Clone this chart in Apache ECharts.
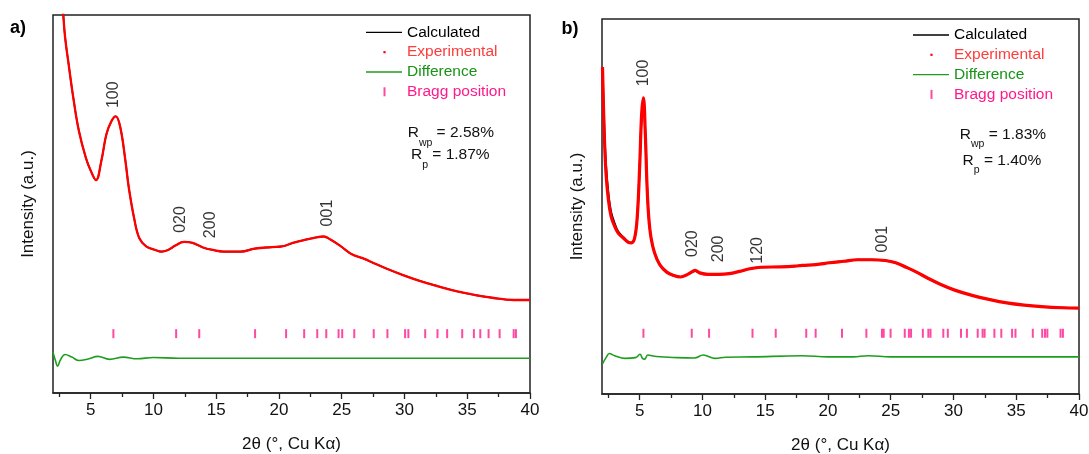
<!DOCTYPE html>
<html><head><meta charset="utf-8">
<script src="https://cdn.jsdelivr.net/npm/echarts@6/dist/echarts.min.js"></script>
<style>html,body{margin:0;padding:0;background:#fff}#c{width:1089px;height:454px}</style>
</head><body><div id="c"></div>
<script>
// ---------- Panel a ----------
const twoThetaA = [2.0, 2.3, 2.6, 2.8, 2.96, 3.24, 3.65, 4.06, 4.61, 5.02, 5.43, 5.85, 6.26, 6.67, 7.0, 7.36, 7.77, 8.04, 8.46, 8.87, 9.42, 10.1, 10.65, 11.2, 11.75, 12.44, 13.13, 13.95, 14.64, 15.6, 16.97, 18.07, 19.45, 20.27, 21.1, 21.92, 22.74, 23.57, 24.1, 24.94, 25.76, 26.86, 27.4, 28.5, 29.88, 31.26, 32.6, 34.3, 35.65, 37.0, 38.7, 40];
const experimentalA = [150, 128, 110, 101, 94.2, 87.1, 77.4, 69.4, 62.3, 58.7, 56.3, 61.4, 68.5, 72.0, 73.2, 70.3, 61.4, 54.3, 46.3, 41.0, 38.8, 37.9, 37.4, 37.9, 39.0, 40.0, 39.7, 38.5, 37.9, 37.4, 37.4, 38.2, 38.6, 38.8, 39.7, 40.4, 41.0, 41.4, 40.6, 38.8, 36.8, 35.4, 34.6, 33.0, 31.2, 29.6, 28.3, 26.8, 25.9, 25.2, 24.6, 24.6];
const calculatedA = [150, 128, 110, 101, 94.2, 87.1, 77.4, 69.4, 62.3, 58.7, 56.3, 61.4, 68.5, 72.0, 73.2, 70.3, 61.4, 54.3, 46.3, 41.0, 38.8, 37.9, 37.4, 37.9, 39.0, 40.0, 39.7, 38.5, 37.9, 37.4, 37.4, 38.2, 38.6, 38.8, 39.7, 40.4, 41.0, 41.4, 40.6, 38.8, 36.8, 35.4, 34.6, 33.0, 31.2, 29.6, 28.3, 26.8, 25.9, 25.2, 24.6, 24.6];
const diffTwoThetaA = [2.0, 2.2, 2.36, 2.6, 2.96, 3.5, 4.06, 4.8, 5.57, 6.5, 7.6, 8.7, 10.0, 12.0, 15, 20, 30, 40];
const differenceA = [10.8, 8.5, 7.1, 8.8, 10.2, 9.5, 8.6, 9.0, 9.7, 8.9, 9.5, 9.05, 9.4, 9.2, 9.2, 9.2, 9.2, 9.2];
const braggA = [6.81, 11.81, 13.65, 18.10, 20.57, 22.01, 23.05, 23.77, 24.75, 25.04, 26.00, 27.55, 28.64, 30.05, 30.31, 31.65, 32.63, 33.40, 34.60, 35.53, 36.04, 36.70, 37.58, 38.70, 38.88];
const braggLevelA = 15.7;
const peakHklA = ['100', '020', '200', '001'];
const peakXA = [6.84, 12.16, 14.55, 23.9];
const peakYA = [78.9, 45.9, 44.5, 47.6];
const rwpA = '2.58%';
const rpA = '1.87%';

// ---------- Panel b ----------
const twoThetaB = [2.04, 2.18, 2.32, 2.51, 2.73, 3.01, 3.29, 3.70, 4.12, 4.34, 4.6, 4.81, 5.0, 5.16, 5.3, 5.45, 5.58, 5.72, 5.91, 6.19, 6.6, 7.16, 7.71, 8.26, 8.82, 9.23, 9.42, 9.78, 10.47, 11.3, 12.13, 12.96, 13.79, 14.62, 16.28, 17.39, 17.94, 19.04, 20.15, 21.26, 22.36, 23.47, 24.57, 25.4, 26.23, 27.06, 27.89, 28.99, 30.1, 31.48, 32.87, 34.25, 35.63, 37.01, 38.67, 40];
const experimentalB = [87.2, 69.5, 58.8, 51.8, 47.3, 44.7, 42.9, 41.6, 40.4, 40.3, 41.6, 47.3, 60.6, 74.8, 79.0, 69.5, 56.2, 47.3, 41.6, 37.6, 34.5, 32.5, 31.6, 31.2, 31.9, 32.7, 33.0, 32.3, 31.9, 31.9, 32.1, 32.7, 33.4, 33.8, 33.9, 34.1, 34.3, 34.5, 35.0, 35.4, 35.8, 35.8, 35.6, 35.0, 33.8, 32.5, 31.0, 29.2, 27.7, 26.3, 25.2, 24.3, 23.7, 23.3, 23.0, 22.9];
const calculatedB = [87.2, 71.0, 61.0, 53.5, 48.5, 45.5, 43.3, 41.8, 40.5, 40.3, 41.6, 47.3, 60.6, 73.5, 76.4, 69.5, 56.2, 47.3, 41.6, 37.6, 34.5, 32.5, 31.6, 31.2, 31.9, 32.6, 32.8, 32.3, 31.9, 31.9, 32.1, 32.7, 33.4, 33.8, 33.9, 34.1, 34.3, 34.5, 35.0, 35.4, 35.8, 35.8, 35.6, 35.0, 33.8, 32.5, 31.0, 29.2, 27.7, 26.3, 25.2, 24.3, 23.7, 23.3, 23.0, 22.9];
const diffTwoThetaB = [2.04, 2.32, 2.59, 3.01, 3.84, 4.67, 5.03, 5.22, 5.41, 5.64, 6.33, 7.99, 9.37, 10.06, 11.02, 11.85, 14.0, 17.94, 20.0, 22.0, 23.2, 25.0, 40];
const differenceB = [8.0, 9.7, 10.8, 10.2, 9.5, 9.7, 10.6, 9.5, 9.3, 10.4, 10.0, 9.7, 9.6, 10.4, 9.5, 9.8, 9.9, 10.2, 9.9, 9.9, 10.2, 9.9, 9.9];
const braggB = [5.30, 9.15, 10.53, 13.99, 15.84, 18.27, 19.02, 21.12, 23.06, 24.30, 24.44, 24.99, 26.12, 26.45, 26.62, 27.56, 28.00, 28.17, 29.19, 29.55, 30.60, 31.07, 31.93, 32.32, 32.48, 33.26, 33.81, 34.67, 34.94, 36.32, 37.07, 37.29, 37.48, 38.53, 38.72];
const braggLevelB = 16.2;
const peakHklB = ['100', '020', '200', '120', '001'];
const peakXB = [5.28, 9.23, 11.25, 14.40, 24.38];
const peakYB = [85.6, 40.1, 38.7, 38.3, 41.3];
const rwpB = '1.83%';
const rpB = '1.40%';

// ---------- Axis ticks ----------
const majorTicks = [5, 10, 15, 20, 25, 30, 35, 40];
const minorTicks = [2.5, 7.5, 12.5, 17.5, 22.5, 27.5, 32.5, 37.5];
const xAxisTitle = '2θ (°, Cu Kα)';
const yAxisTitle = 'Intensity (a.u.)';

// ---------- Build ----------
const FF = '"Liberation Sans", Arial, Helvetica, sans-serif';
const C_RED = '#ff0000', C_GREEN = '#1e9e1e', C_PINK = '#ff1a8c', C_AX = '#222';
const zip = (xs, ys) => xs.map((x, i) => [x, ys[i]]);

function xAxes(grid) {
  return [
    { gridIndex: grid, type: 'value', min: 2, max: 40, position: 'bottom',
      axisLine: { show: true, lineStyle: { color: C_AX, width: 1.5 } },
      axisTick: { show: true, inside: false, length: 6, customValues: majorTicks, lineStyle: { color: C_AX, width: 1.3 } },
      axisLabel: { show: true, customValues: majorTicks, fontSize: 17, color: '#111', margin: 9, fontFamily: FF },
      splitLine: { show: false },
      name: xAxisTitle, nameLocation: 'middle', nameGap: 43,
      nameTextStyle: { fontSize: 17, color: '#111', fontFamily: FF } },
    { gridIndex: grid, type: 'value', min: 2, max: 40, position: 'bottom',
      axisLine: { show: false },
      axisTick: { show: true, inside: false, length: 4, customValues: minorTicks, lineStyle: { color: C_AX, width: 1.3 } },
      axisLabel: { show: false }, splitLine: { show: false } }
  ];
}
function yAxis(grid) {
  return { gridIndex: grid, type: 'value', min: 0, max: 100,
    axisLine: { show: false }, axisTick: { show: false }, axisLabel: { show: false }, splitLine: { show: false },
    name: yAxisTitle, nameLocation: 'middle', nameGap: 16,
    nameTextStyle: { fontSize: 17, color: '#111', fontFamily: FF } };
}
function panelSeries(p, xi, yi) {
  return [
    { name: 'Difference', type: 'line', xAxisIndex: xi, yAxisIndex: yi, data: zip(p.dx, p.d),
      symbol: 'none', smooth: 0.4, color: C_GREEN,
      lineStyle: { color: C_GREEN, width: 1.6 }, z: 2 },
    { name: 'Bragg position', type: 'scatter', xAxisIndex: xi, yAxisIndex: yi,
      data: p.bragg.map(x => [x, p.braggLevel]), symbol: 'rect', symbolSize: [2, 9],
      color: C_PINK, itemStyle: { color: C_PINK }, z: 3 },
    { name: 'Calculated', type: 'line', xAxisIndex: xi, yAxisIndex: yi, data: zip(p.x, p.calc),
      symbol: 'none', smooth: 0.4, color: '#000',
      lineStyle: { color: '#000', width: p.calcW }, z: 4 },
    { name: 'Experimental', type: 'line', xAxisIndex: xi, yAxisIndex: yi, data: zip(p.x, p.exp),
      symbol: 'none', smooth: 0.4, color: C_RED,
      lineStyle: { color: C_RED, width: p.expW }, z: 5 },
    { name: 'hkl', type: 'scatter', xAxisIndex: xi, yAxisIndex: yi, silent: true,
      data: p.hkl.map((h, i) => ({ name: h, value: [p.hx[i], p.hy[i]] })),
      symbolSize: 1, itemStyle: { color: 'rgba(0,0,0,0)' }, z: 6,
      label: { show: true, position: 'inside', rotate: 90, formatter: '{b}',
        fontSize: 16, color: '#000', fontFamily: FF } }
  ];
}
const lineIcon = 'path://M0,0 M36,10 M0,4.3 h36 v1.4 h-36 z';
const dotIcon = 'path://M0,0 M36,10 M17.4,3.9 h2.2 v2.2 h-2.2 z';
const barIcon = 'path://M0,0 M36,10 M17.5,0.5 h2 v9 h-2 z';
function legend(left, top) {
  return { left: left, top: top, orient: 'vertical', padding: 0, itemGap: 3.8, itemWidth: 36, itemHeight: 10,
    selectedMode: false,
    textStyle: { fontSize: 15.5, lineHeight: 16, fontFamily: FF },
    data: [
      { name: 'Calculated', icon: lineIcon, itemStyle: { color: '#000', borderWidth: 0 }, textStyle: { color: '#000' } },
      { name: 'Experimental', icon: dotIcon, itemStyle: { color: C_RED, borderWidth: 0 }, textStyle: { color: '#ff3b3b' } },
      { name: 'Difference', icon: lineIcon, itemStyle: { color: C_GREEN, borderWidth: 0 }, textStyle: { color: '#179317' } },
      { name: 'Bragg position', icon: barIcon, itemStyle: { color: C_PINK, borderWidth: 0 }, textStyle: { color: C_PINK } }
    ] };
}
const measureCtx = document.createElement('canvas').getContext('2d');
function textW(str, size) {
  measureCtx.font = size + 'px "Liberation Sans", Arial, sans-serif';
  return measureCtx.measureText(str).width;
}
function rText(x, yc, sub, val) {
  const big = 15.5, small = 10.5;
  const wR = textW('R', big), wS = textW(sub, small);
  const base = { fontFamily: FF, fill: '#111', align: 'left', verticalAlign: 'middle' };
  return [
    { type: 'text', x: x, y: yc, silent: true, style: Object.assign({ text: 'R', fontSize: big }, base) },
    { type: 'text', x: x + wR, y: yc + 10, silent: true, style: Object.assign({ text: sub, fontSize: small }, base) },
    { type: 'text', x: x + wR + wS, y: yc, silent: true, style: Object.assign({ text: ' = ' + val, fontSize: big }, base) }
  ];
}

const pa = { x: twoThetaA, exp: experimentalA, calc: calculatedA, dx: diffTwoThetaA, d: differenceA,
  bragg: braggA, braggLevel: braggLevelA, hkl: peakHklA, hx: peakXA, hy: peakYA, expW: 2.3, calcW: 1.6 };
const pb = { x: twoThetaB, exp: experimentalB, calc: calculatedB, dx: diffTwoThetaB, d: differenceB,
  bragg: braggB, braggLevel: braggLevelB, hkl: peakHklB, hx: peakXB, hy: peakYB, expW: 3.2, calcW: 2.0 };

const chart = echarts.init(document.getElementById('c'), null, { renderer: 'canvas' });
chart.setOption({
  animation: false,
  backgroundColor: '#fff',
  grid: [
    { left: 53, top: 15, width: 477, height: 378, show: true, borderColor: C_AX, borderWidth: 1.5, backgroundColor: 'transparent', containLabel: false, outerBoundsMode: 'none' },
    { left: 602, top: 19, width: 477, height: 375, show: true, borderColor: C_AX, borderWidth: 1.5, backgroundColor: 'transparent', containLabel: false, outerBoundsMode: 'none' }
  ],
  xAxis: [...xAxes(0), ...xAxes(1)],
  yAxis: [yAxis(0), yAxis(1)],
  legend: [legend(366, 24.4), legend(913, 27)],
  series: [...panelSeries(pa, 0, 0), ...panelSeries(pb, 2, 1)],
  graphic: [
    { type: 'text', x: 18, y: 28.5, silent: true, style: { text: 'a)', fontSize: 18, fontWeight: 'bold', fontFamily: FF, fill: '#000', align: 'center', verticalAlign: 'middle' } },
    { type: 'text', x: 570, y: 29, silent: true, style: { text: 'b)', fontSize: 18, fontWeight: 'bold', fontFamily: FF, fill: '#000', align: 'center', verticalAlign: 'middle' } },
    ...rText(407.7, 133, 'wp', rwpA),
    ...rText(411, 155, 'p', rpA),
    ...rText(959.8, 134.5, 'wp', rwpB),
    ...rText(962.6, 160.5, 'p', rpB)
  ]
});
</script>
</body></html>
